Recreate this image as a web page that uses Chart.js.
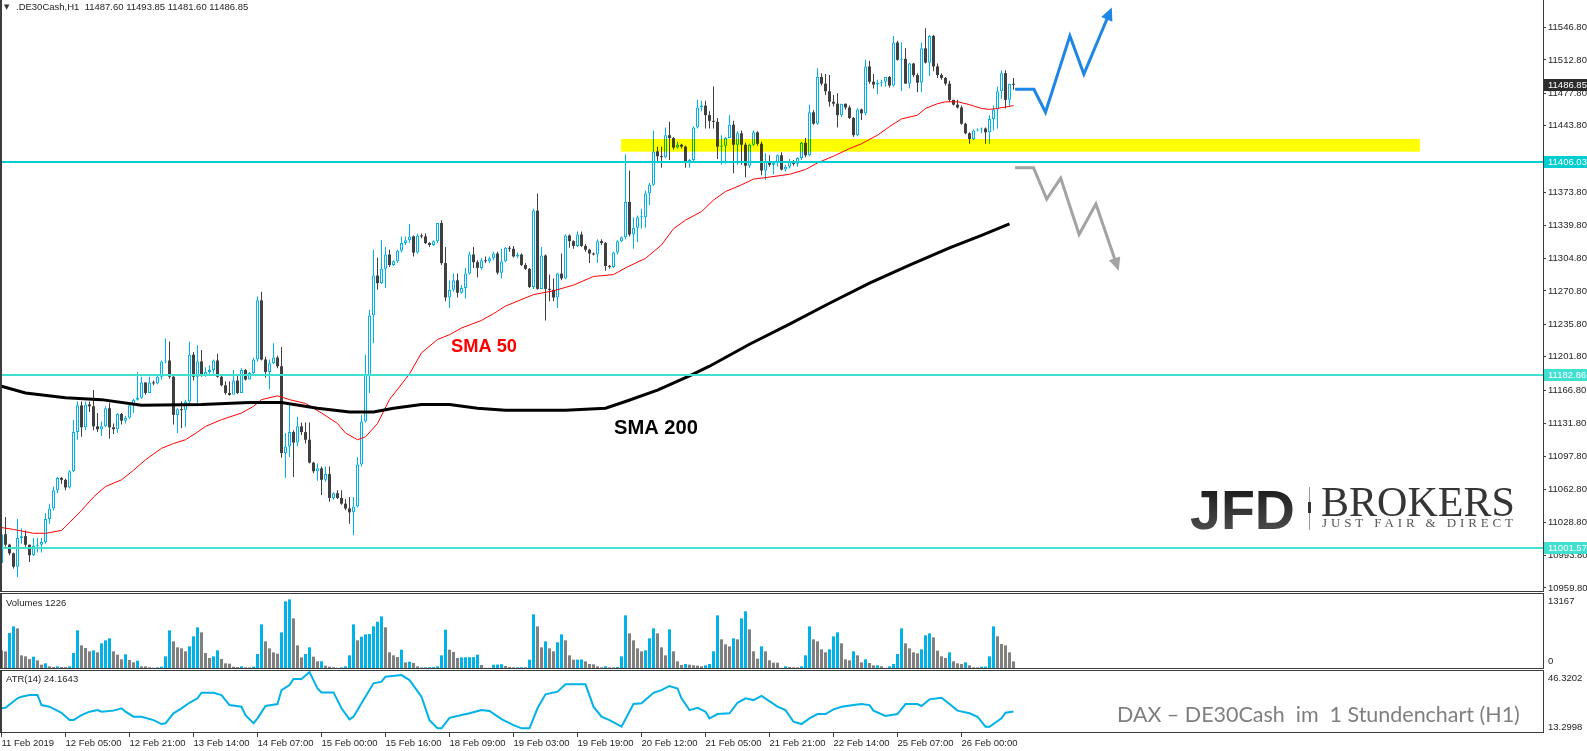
<!DOCTYPE html>
<html>
<head>
<meta charset="utf-8">
<title>DE30Cash H1</title>
<script src="https://cdn.jsdelivr.net/npm/chart.js"></script>
<style>
  body { margin: 0; background: #fff; width: 1587px; height: 751px; overflow: hidden; position: relative; }
  canvas { position: absolute; left: 0; }
</style>
</head>
<body>
<canvas id="cPrice" width="1587" height="592" style="top:0;width:1587px;height:592px"></canvas>
<canvas id="cVol" width="1587" height="76" style="top:593px;width:1587px;height:76px"></canvas>
<canvas id="cAtr" width="1587" height="81" style="top:670px;width:1587px;height:81px"></canvas>
<script>
// ---- Daten (H1-Kerzen, von links nach rechts) ----
const firstOpen = 10986;
const closes = [
  11016,11005,10996,10982,11012,11014,11005,10994,11004,11005,
  11008,11032,11043,11062,11075,11073,11065,11082,11123,11151,
  11128,11152,11150,11129,11126,11129,11148,11128,11126,11142,
  11135,11138,11151,11157,11159,11175,11164,11175,11174,11181,
  11197,11198,11181,11141,11147,11146,11155,11204,11181,11197,
  11183,11186,11188,11198,11181,11172,11164,11162,11177,11164,
  11188,11178,11185,11199,11261,11199,11186,11195,11201,11192,
  11101,11108,11123,11112,11129,11123,11115,11091,11082,11085,
  11073,11079,11054,11059,11054,11048,11043,11039,11045,11089,
  11134,11183,11245,11287,11279,11294,11309,11298,11302,11313,
  11321,11324,11328,11311,11329,11328,11321,11319,11323,11342,
  11300,11264,11272,11282,11269,11274,11289,11309,11301,11295,
  11303,11302,11305,11310,11290,11302,11316,11315,11307,11309,
  11298,11294,11275,11355,11273,11308,11273,11272,11264,11289,
  11284,11329,11323,11318,11330,11318,11314,11310,11309,11323,
  11321,11297,11296,11311,11323,11327,11364,11330,11337,11348,
  11348,11373,11382,11417,11412,11411,11434,11431,11421,11424,
  11422,11405,11408,11442,11463,11465,11455,11449,11448,11422,
  11423,11431,11445,11424,11436,11424,11402,11424,11437,11425,
  11397,11406,11403,11405,11413,11398,11401,11406,11404,11410,
  11426,11413,11458,11446,11495,11488,11480,11469,11467,11455,
  11467,11463,11452,11434,11461,11457,11506,11490,11487,11489,
  11490,11495,11486,11531,11513,11514,11488,11509,11497,11489,
  11525,11510,11538,11506,11497,11494,11488,11471,11466,11463,
  11446,11436,11430,11439,11440,11441,11437,11451,11461,11480,
  11499,11471,11487.6,11486.85
];
const highs = [
  11022,11034,11006,10997,11032,11022,11020,11005,11012,11012,
  11012,11038,11048,11066,11076,11076,11074,11083,11136,11155,
  11155,11155,11155,11167,11143,11134,11150,11154,11132,11143,
  11143,11140,11153,11158,11186,11181,11175,11181,11177,11183,
  11198,11221,11218,11183,11148,11155,11157,11218,11207,11214,
  11209,11191,11193,11199,11205,11183,11176,11176,11188,11182,
  11190,11189,11186,11201,11265,11270,11202,11199,11216,11203,
  11212,11122,11152,11125,11139,11133,11133,11133,11092,11090,
  11087,11087,11087,11060,11062,11062,11053,11055,11055,11097,
  11141,11204,11251,11314,11306,11324,11317,11314,11303,11314,
  11328,11328,11341,11329,11331,11331,11331,11322,11324,11342,
  11345,11317,11282,11289,11289,11277,11295,11312,11317,11303,
  11305,11307,11307,11312,11312,11315,11317,11318,11318,11311,
  11310,11300,11295,11357,11373,11317,11309,11288,11284,11290,
  11310,11330,11330,11324,11333,11333,11320,11315,11311,11325,
  11325,11322,11298,11312,11324,11328,11414,11397,11348,11350,
  11357,11376,11384,11439,11422,11422,11442,11448,11432,11427,
  11425,11423,11409,11443,11471,11470,11470,11459,11485,11452,
  11434,11432,11455,11449,11438,11439,11426,11425,11439,11438,
  11427,11415,11413,11407,11414,11416,11403,11409,11408,11411,
  11427,11431,11466,11460,11504,11499,11498,11497,11476,11478,
  11467,11467,11465,11453,11462,11462,11513,11512,11498,11492,
  11492,11495,11496,11538,11533,11531,11525,11510,11510,11499,
  11531,11546,11539,11539,11509,11499,11495,11491,11471,11471,
  11465,11447,11437,11440,11441,11442,11442,11455,11465,11485,
  11502,11502,11488,11493.85
];
const lows = [
  10975,11003,10994,10980,10971,11006,11003,10987,10993,10997,
  10997,11006,11027,11041,11059,11069,11062,11064,11081,11115,
  11118,11125,11144,11125,11123,11119,11128,11116,11121,11122,
  11131,11132,11137,11143,11156,11158,11162,11164,11172,11173,
  11178,11195,11179,11131,11122,11127,11128,11152,11177,11153,
  11181,11181,11184,11184,11180,11171,11162,11161,11165,11163,
  11164,11177,11178,11184,11197,11198,11180,11168,11194,11190,
  11096,11075,11097,11076,11108,11120,11111,11090,11080,11072,
  11057,11071,11050,11052,11053,11047,11041,11027,11015,11044,
  11087,11133,11164,11216,11272,11278,11274,11296,11297,11300,
  11311,11319,11321,11307,11310,11326,11320,11317,11318,11321,
  11298,11260,11253,11270,11264,11268,11263,11288,11295,11285,
  11293,11300,11300,11303,11288,11284,11301,11312,11306,11305,
  11297,11293,11274,11273,11272,11284,11240,11260,11260,11253,
  11282,11283,11316,11315,11317,11317,11312,11300,11308,11300,
  11319,11292,11294,11295,11309,11322,11325,11328,11315,11322,
  11336,11337,11361,11381,11406,11400,11410,11408,11419,11420,
  11420,11400,11400,11406,11441,11459,11441,11441,11441,11409,
  11403,11404,11431,11394,11403,11403,11390,11400,11423,11423,
  11392,11387,11401,11393,11401,11397,11396,11399,11402,11401,
  11408,11411,11412,11445,11445,11486,11476,11464,11464,11442,
  11453,11461,11451,11432,11433,11450,11455,11488,11483,11477,
  11485,11485,11484,11485,11512,11480,11488,11483,11495,11479,
  11479,11509,11496,11501,11494,11492,11486,11469,11465,11462,
  11445,11435,11425,11429,11438,11436,11425,11425,11439,11441,
  11472,11462,11464,11481.6
];
const volumes = [
  3275,3090,6489,7725,7354,2348,2163,1669,2101,1421,
  618,865,309,185,309,185,170,309,2781,6983,
  4202,3708,3090,3275,2905,4573,5129,5500,3090,2472,
  1607,2534,1483,1051,1360,309,300,124,60,124,
  247,2163,6983,4944,3832,3646,3090,4017,5871,7540,
  6613,2781,1854,2163,3275,1669,865,803,247,185,
  309,124,120,247,2596,8096,4944,3646,2905,2657,
  6613,12360,12731,9208,4202,1978,2596,3832,2101,1236,
  1250,433,247,124,40,124,309,2348,8096,5129,
  5809,6242,6300,7725,8590,9579,7540,2905,2348,2039,
  3399,1051,1174,927,309,110,130,150,170,309,
  2348,7107,3399,2967,1854,1978,1990,2000,2010,2472,
  556,40,30,618,640,700,371,185,124,130,
  140,124,1545,9950,7725,3832,4944,3646,3090,4759,
  6242,5129,2348,1545,1560,1575,1236,742,680,309,
  124,309,124,120,185,2163,9764,6427,5129,3646,
  3090,3275,5500,7354,6427,3832,2348,7169,3090,1236,
  556,742,618,494,433,309,494,742,3090,9764,
  5315,4388,4017,5500,5315,9208,10506,7169,3090,1730,
  4017,3090,1421,989,980,40,309,185,124,120,
  309,2348,7725,5315,4944,3461,2905,3461,5871,6613,
  4573,1607,1421,3090,2348,1051,1607,927,494,500,
  309,30,309,742,2596,7354,4573,3646,2905,2719,
  3461,6056,6427,5686,3214,2163,1854,2905,1236,865,
  742,1051,494,124,120,247,260,2163,7725,5871,
  4450,4202,2905,1226
];
// SMA 50 / SMA 200 (Kerzenindex, Kurs)
const sma50Idx = [0,3,8,11,15,16,20,23,26,30,33,36,40,43,46,49,51,55,60,63,65,69,72,76,80,84,86,89,91,94,97,102,105,109,112,115,120,123,126,133,138,143,148,153,156,161,165,168,171,175,178,181,185,188,190,197,201,204,208,212,215,219,222,225,229,231,234,236,239,242,245,247,249,253];
const sma50Val = [11023,11021,11017,11017,11020,11024,11041,11055,11066,11073,11083,11094,11106,11111,11115,11123,11129,11136,11143,11150,11157,11161,11157,11153,11143,11132,11122,11115,11118,11132,11157,11184,11206,11220,11225,11232,11240,11247,11255,11267,11271,11277,11286,11288,11295,11305,11319,11336,11345,11354,11366,11375,11382,11388,11389,11393,11398,11405,11412,11420,11425,11434,11443,11451,11455,11462,11467,11469,11469,11466,11462,11461,11462,11465];
const sma200Idx = [0,6,16,25,35,50,62,70,79,87,93,98,105,112,119,126,141,151,156,164,172,177,187,197,207,217,227,237,245,252];
const sma200Val = [11171,11164,11159,11157,11151,11152,11154,11154,11148,11144,11144,11148,11152,11152,11148,11146,11146,11148,11155,11167,11182,11192,11215,11236,11258,11279,11298,11316,11329,11341];
// ATR(14)
const atrIdx = [0,1,4,5,7,9,10,12,15,17,18,20,22,24,25,28,30,31,33,35,38,40,41,43,45,47,49,50,53,55,57,60,61,63,64,66,69,70,72,73,75,77,79,80,83,85,87,88,90,93,95,96,100,102,105,107,109,110,112,115,117,120,122,125,128,130,132,134,136,139,141,146,148,150,152,155,158,160,163,165,167,169,170,172,174,176,177,179,182,184,186,188,190,194,196,198,200,202,204,206,208,210,213,215,217,218,221,224,226,229,230,232,235,237,239,242,244,246,247,250,251,253];
const atrVal = [26.0,26.3,31.6,32.5,33.4,33.4,27.8,26.9,23.5,19.4,19.4,22.2,24.1,25.0,24.1,24.7,26.0,24.1,21.3,21.3,19.4,17.2,17.6,23.2,26.0,29.1,31.6,34.7,34.7,33.4,27.8,26.9,22.2,17.6,20.4,27.3,28.4,36.2,39.0,42.4,42.4,46.3,37.1,34.9,34.9,26.0,19.8,21.3,28.8,40.0,40.9,43.7,44.6,41.8,32.5,19.4,14.8,14.8,20.7,22.2,23.2,25.0,24.5,20.0,16.6,14.8,14.8,26.0,33.8,35.3,39.4,39.4,26.9,21.3,19.4,15.7,28.4,28.8,34.7,36.2,38.5,37.1,31.6,25.0,26.3,24.1,20.4,22.8,23.2,29.1,31.6,30.6,32.9,26.9,25.0,18.5,17.2,20.4,22.8,22.8,25.4,26.9,27.8,28.4,27.8,24.7,21.7,22.8,28.4,28.4,27.3,31.0,31.9,28.4,24.7,23.2,21.3,15.7,15.7,20.4,23.5,24.1643];

// Achsen
const priceTicks = [11546.8,11512.8,11477.8,11443.8,11408.8,11373.8,11339.8,11304.8,11270.8,11235.8,11201.8,11166.8,11131.8,11097.8,11062.8,11028.8,10993.8,10959.8];
const xTickIdx = [0,16,32,48,64,80,96,112,128,144,160,176,192,208,224,240];
const xTickLabels = ['11 Feb 2019','12 Feb 05:00','12 Feb 21:00','13 Feb 14:00','14 Feb 07:00','15 Feb 00:00','15 Feb 16:00','18 Feb 09:00','19 Feb 03:00','19 Feb 19:00','20 Feb 12:00','21 Feb 05:00','21 Feb 21:00','22 Feb 14:00','25 Feb 07:00','26 Feb 00:00'];
const volAxisLabels = ['13167','0'];
const atrAxisLabels = ['46.3202','13.2998'];

// Linien und Zonen im Chart
const priceLevels = [11406.03, 11182.86, 11001.57];
const levelColors = ['#00ced1', '#40e0d0', '#40e0d0'];
const zoneFrom = 154.9, zoneTo = 354.6, zoneLow = 11416.7, zoneHigh = 11430.0;
const blueIdx = [253.4, 258.1, 261.0, 267.1, 270.6, 277.1];
const blueVal = [11482, 11482, 11458, 11538, 11498, 11563];
const grayIdx = [253.4, 258.0, 261.3, 264.8, 269.4, 273.6, 278.9];
const grayVal = [11400, 11400, 11367, 11389, 11330, 11362, 11297];

// ---- Darstellung ----
const UP = '#00b2e6';
const DOWN = '#404040';
const VOL_DOWN = '#808080';
const FRAME = '#3c3c3c';
const X_MIN = -0.375, X_MAX = 385.375;
const PRICE_MAX = 11575.6, PRICE_MIN = 10955.5;
const AXIS_W = 44;
const SANS = '"Liberation Sans", Arial, sans-serif';
const AXIS_FONT = { family: SANS, size: 9.5 };

const idx = closes.map((_, i) => i);
const opens = closes.map((c, i) => i === 0 ? firstOpen : closes[i - 1]);
const isUp = closes.map((c, i) => c >= opens[i]);
const last = closes.length - 1;

function framePlugin(sides) {
  return {
    id: 'frame',
    afterDraw(chart) {
      const a = chart.chartArea, ctx = chart.ctx;
      ctx.save();
      ctx.fillStyle = FRAME;
      if (sides.includes('l')) ctx.fillRect(a.left, a.top, 2, a.bottom - a.top);
      if (sides.includes('r')) ctx.fillRect(a.right, a.top, 1, a.bottom - a.top);
      if (sides.includes('t')) ctx.fillRect(a.left, a.top, a.right - a.left + 1, 1);
      if (sides.includes('b')) ctx.fillRect(a.left, a.bottom - 1, a.right - a.left + 1, 1);
      ctx.restore();
    }
  };
}

function textPlugin(items) {
  return {
    id: 'texts',
    afterDraw(chart) {
      const ctx = chart.ctx;
      items.forEach(it => {
        ctx.save();
        ctx.font = it.font;
        ctx.letterSpacing = '0px';
        if (it.fit) {
          const m = it.font.match(/([\d.]+)px/);
          const w = ctx.measureText(it.t).width;
          ctx.font = it.font.replace(m[0], (parseFloat(m[1]) * it.fit / w).toFixed(2) + 'px');
        }
        if (it.spread) {
          // Buchstabenabstand so waehlen, dass der Text die Breite fuellt
          const w = ctx.measureText(it.t).width;
          ctx.letterSpacing = ((it.spread - w) / (it.t.length - 1)).toFixed(2) + 'px';
        }
        if (it.grad) {
          const g = ctx.createLinearGradient(0, it.y - 40, 0, it.y);
          g.addColorStop(0, it.grad[0]);
          g.addColorStop(1, it.grad[1]);
          ctx.fillStyle = g;
        } else {
          ctx.fillStyle = it.color || '#222';
        }
        ctx.textAlign = it.align || 'left';
        ctx.textBaseline = it.base || 'middle';
        ctx.fillText(it.t, it.x, it.y);
        ctx.restore();
      });
    }
  };
}

// gelbe Zone, wie in MT4 multiplikativ ueber die Kerzen gelegt
const zonePlugin = {
  id: 'zone',
  afterDatasetsDraw(chart) {
    const x = chart.scales.x, y = chart.scales.y, ctx = chart.ctx;
    const x0 = x.getPixelForValue(zoneFrom), x1 = x.getPixelForValue(zoneTo);
    const y0 = y.getPixelForValue(zoneHigh), y1 = y.getPixelForValue(zoneLow);
    ctx.save();
    ctx.globalCompositeOperation = 'multiply';
    ctx.fillStyle = '#ffff00';
    ctx.fillRect(x0, y0, x1 - x0, y1 - y0);
    ctx.restore();
  }
};

const arrowPlugin = {
  id: 'arrowHeads',
  afterDatasetsDraw(chart) {
    const ctx = chart.ctx;
    chart.data.datasets.forEach((ds, k) => {
      if (!ds.arrow) return;
      const pts = chart.getDatasetMeta(k).data;
      const p = pts[pts.length - 1], q = pts[pts.length - 2];
      const a = Math.atan2(p.y - q.y, p.x - q.x);
      const c = Math.cos(a), s = Math.sin(a);
      const tx = p.x + c * 5, ty = p.y + s * 5, L = 13, W = 6;
      ctx.save();
      ctx.fillStyle = ds.borderColor;
      ctx.beginPath();
      ctx.moveTo(tx, ty);
      ctx.lineTo(tx - L * c + W * s, ty - L * s - W * c);
      ctx.lineTo(tx - L * c - W * s, ty - L * s + W * c);
      ctx.closePath();
      ctx.fill();
      ctx.restore();
    });
  }
};

// Preisschilder an der rechten Achse
const priceTags = [
  { value: closes[last], bg: '#2b2b2b' },
  { value: priceLevels[0], bg: levelColors[0] },
  { value: priceLevels[1], bg: levelColors[1] },
  { value: priceLevels[2], bg: levelColors[2] }
];
const tagPlugin = {
  id: 'tags',
  afterDraw(chart) {
    const y = chart.scales.y, ctx = chart.ctx, left = chart.chartArea.right + 1;
    ctx.save();
    priceTags.forEach(tag => {
      const py = Math.round(y.getPixelForValue(tag.value));
      ctx.fillStyle = tag.bg;
      ctx.fillRect(left, py - 6, chart.width - left, 12);
      ctx.fillStyle = '#fff';
      ctx.font = '9.5px ' + SANS;
      ctx.textBaseline = 'middle';
      ctx.fillText(tag.value.toFixed(2), left + 4, py + 0.5);
    });
    ctx.restore();
  }
};

const logoPlugin = {
  id: 'logo',
  afterDatasetsDraw(chart) {
    const ctx = chart.ctx;
    ctx.save();
    ctx.fillStyle = '#9a9a9a';
    ctx.fillRect(1309, 487, 1, 43);
    ctx.fillStyle = '#333';
    ctx.fillRect(1308, 502, 3, 11);
    ctx.restore();
  }
};

function xScale(show) {
  return {
    type: 'linear', min: X_MIN, max: X_MAX, offset: false, display: show,
    grid: { drawOnChartArea: false, drawTicks: true, tickLength: 4, color: FRAME, offset: false },
    border: { display: false },
    afterBuildTicks: s => { s.ticks = xTickIdx.map(v => ({ value: v })); },
    afterFit: s => { s.height = show ? 18 : 0; s.paddingLeft = 0; s.paddingRight = 0; },
    ticks: { autoSkip: false, maxRotation: 0, minRotation: 0, align: 'start', padding: 1,
             color: '#1e1e1e', font: AXIS_FONT, callback: (v, k) => xTickLabels[k] }
  };
}

function sideScale(min, max) {
  return {
    position: 'right', min: min, max: max, beginAtZero: false,
    grid: { display: false }, border: { display: false }, ticks: { display: false },
    afterFit: s => { s.width = AXIS_W; s.paddingTop = 0; s.paddingBottom = 0; }
  };
}

const base = {
  responsive: false, animation: false, devicePixelRatio: 1,
  layout: { padding: 0 },
  plugins: { legend: { display: false }, tooltip: { enabled: false } }
};

const headerText = '.DE30Cash,H1  ' + [opens[last], highs[last], lows[last], closes[last]].map(v => v.toFixed(2)).join(' ');

// Hauptchart mit Kerzen
new Chart(document.getElementById('cPrice'), {
  type: 'bar',
  data: {
    datasets: [
      { type: 'line', arrow: true, data: blueIdx.map((x, k) => ({ x, y: blueVal[k] })), borderColor: '#1e86e6', borderWidth: 3, pointRadius: 0, borderJoinStyle: 'miter', order: 0 },
      { type: 'line', arrow: true, data: grayIdx.map((x, k) => ({ x, y: grayVal[k] })), borderColor: '#a3a3a3', borderWidth: 3, pointRadius: 0, borderJoinStyle: 'miter', order: 0 },
      ...priceLevels.map((lv, k) => ({ type: 'line', data: [{ x: X_MIN, y: lv }, { x: X_MAX, y: lv }], borderColor: levelColors[k], borderWidth: 2, pointRadius: 0, order: 1 })),
      { type: 'line', data: sma200Idx.map((x, k) => ({ x, y: sma200Val[k] })), borderColor: '#000', borderWidth: 3, pointRadius: 0, order: 2 },
      { type: 'line', data: sma50Idx.map((x, k) => ({ x, y: sma50Val[k] })), borderColor: '#ff0000', borderWidth: 1, pointRadius: 0, order: 2 },
      { data: idx.map(i => ({ x: i, y: [opens[i], closes[i]] })),
        backgroundColor: isUp.map(u => u ? '#ffffff' : DOWN), borderColor: isUp.map(u => u ? UP : DOWN),
        borderWidth: isUp.map(u => u ? 1 : 0), borderSkipped: false, barThickness: 3, grouped: false,
        inflateAmount: 0, minBarLength: 1, order: 3 },
      { data: idx.map(i => ({ x: i, y: [lows[i], highs[i]] })),
        backgroundColor: isUp.map(u => u ? UP : DOWN), borderWidth: 0, barThickness: 1, grouped: false,
        inflateAmount: 0, order: 4 }
    ]
  },
  options: {
    ...base,
    scales: {
      x: xScale(false),
      y: {
        position: 'right', min: PRICE_MIN, max: PRICE_MAX, beginAtZero: false,
        afterBuildTicks: s => { s.ticks = priceTicks.map(v => ({ value: v })); },
        afterFit: s => { s.width = AXIS_W; s.paddingTop = 0; s.paddingBottom = 0; },
        grid: { drawOnChartArea: false, drawTicks: true, tickLength: 3, color: FRAME },
        border: { display: false },
        ticks: { autoSkip: false, padding: 2, color: '#1e1e1e', font: AXIS_FONT, callback: v => v.toFixed(2) }
      }
    }
  },
  plugins: [zonePlugin, logoPlugin, arrowPlugin, framePlugin('lrb'), tagPlugin, textPlugin([
    { t: '▼', x: 4, y: 7.5, font: '7px "DejaVu Sans"', color: '#333' },
    { t: headerText, x: 16, y: 7.5, font: '9.5px ' + SANS, color: '#1e1e1e' },
    { t: 'SMA 50', x: 451, y: 347, font: 'bold 16px ' + SANS, fit: 66, color: '#ff0000' },
    { t: 'SMA 200', x: 614, y: 428, font: 'bold 16px ' + SANS, fit: 84, color: '#000000' },
    { t: 'JFD', x: 1190, y: 529, base: 'alphabetic', font: 'bold 58px ' + SANS, fit: 105, grad: ['#1c1c1c', '#4a4a4a'] },
    { t: 'BROKERS', x: 1321, y: 516, base: 'alphabetic', font: '42px "Liberation Serif", serif', fit: 194, color: '#353535' },
    { t: 'JUST FAIR & DIRECT', x: 1322, y: 527, base: 'alphabetic', font: '13px "Liberation Serif", serif', spread: 191, color: '#555' }
  ])]
});

// Volumen
new Chart(document.getElementById('cVol'), {
  type: 'bar',
  data: {
    datasets: [{
      data: idx.map(i => ({ x: i, y: volumes[i] })),
      backgroundColor: volumes.map((v, i) => i > 0 && v > volumes[i - 1] ? UP : VOL_DOWN),
      borderWidth: 0, barThickness: 3, grouped: false, inflateAmount: 0
    }]
  },
  options: { ...base, scales: { x: xScale(false), y: sideScale(-185.5, 13912.5) } },
  plugins: [framePlugin('lrtb'), textPlugin([
    { t: 'Volumes ' + volumes[last], x: 6, y: 10, font: '9.5px ' + SANS, color: '#1e1e1e' },
    { t: volAxisLabels[0], x: 1548, y: 8, font: '9.5px ' + SANS, color: '#1e1e1e' },
    { t: volAxisLabels[1], x: 1548, y: 68, font: '9.5px ' + SANS, color: '#1e1e1e' }
  ])]
});

// ATR(14)
new Chart(document.getElementById('cAtr'), {
  type: 'line',
  data: {
    datasets: [{
      data: atrIdx.map((x, k) => ({ x, y: atrVal[k] })),
      borderColor: UP, borderWidth: 2, pointRadius: 0, tension: 0
    }]
  },
  options: { ...base, scales: { x: xScale(true), y: sideScale(12.18, 47.44) } },
  plugins: [framePlugin('lrtb'), textPlugin([
    { t: 'ATR(14) ' + atrVal[atrVal.length - 1].toFixed(4), x: 6, y: 9, font: '9.5px ' + SANS, color: '#1e1e1e' },
    { t: atrAxisLabels[0], x: 1548, y: 8, font: '9.5px ' + SANS, color: '#1e1e1e' },
    { t: atrAxisLabels[1], x: 1548, y: 57, font: '9.5px ' + SANS, color: '#1e1e1e' },
    { t: 'DAX – DE30Cash  im  1 Stundenchart (H1)', x: 1117, y: 45, font: '22px Lato, sans-serif', fit: 403, color: '#7f7f7f' }
  ])]
});
</script>
</body>
</html>
